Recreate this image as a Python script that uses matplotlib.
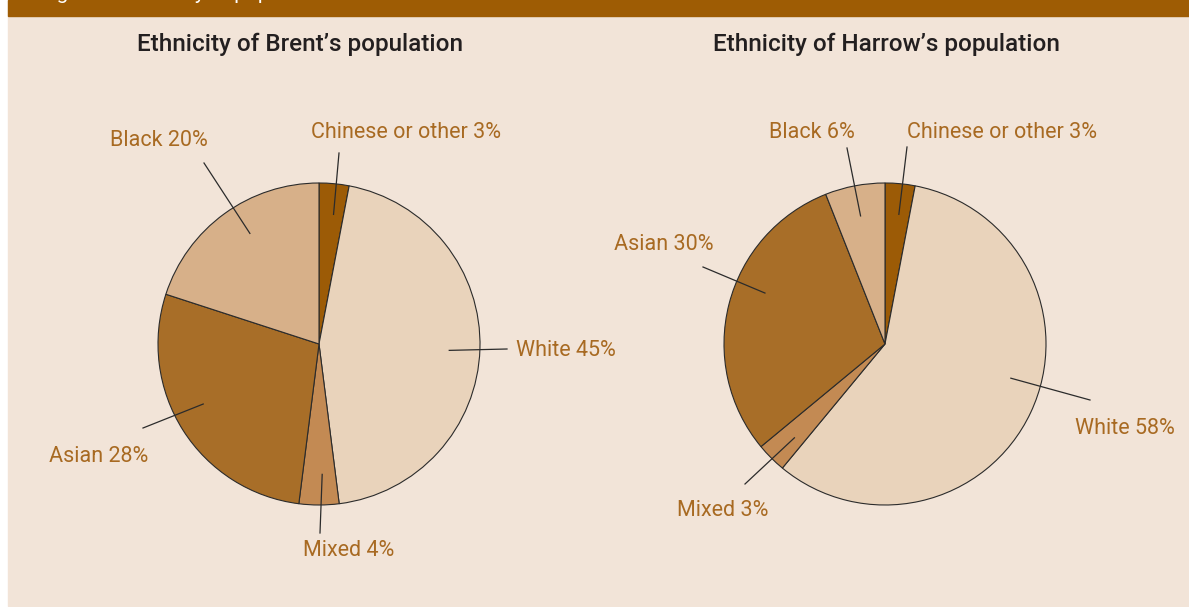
import matplotlib.pyplot as plt
import numpy as np

# data
groups = ['Chinese or other', 'White', 'Mixed', 'Asian', 'Black']
brent = [3, 45, 4, 28, 20]
harrow = [3, 58, 3, 30, 6]
titles = ['Ethnicity of Brent\u2019s population', 'Ethnicity of Harrow\u2019s population']
colors = ['#9c5b06', '#e9d3bb', '#c38a53', '#a86e28', '#d7b089']

BG = '#f2e4d8'
BANNER = '#9e5c04'
LABEL = '#a86a22'
W, H = 1189, 607

fig = plt.figure(figsize=(W / 100, H / 100), dpi=100, facecolor='white')
ax = fig.add_axes([0, 0, 1, 1])

# pixel helpers (y measured from the top)
def py(y):
    return H - y

# background panel + banner (its title runs off the top edge, as in the source)
ax.add_patch(plt.Rectangle((8, py(606)), W - 8, 606, color=BG, zorder=0))
ax.add_patch(plt.Rectangle((8, py(16)), W - 8, 16, color=BANNER, zorder=1))
ax.text(40, py(-1), 'Figure 3: Ethnicity of population', color='white',
        fontsize=15, fontfamily='Roboto', va='baseline', ha='left', zorder=2,
        clip_on=True)

# layout per pie: center, title x, and for each label:
# (text dx, text dy, line end dx, line end dy, angle nudge)
pies = [
    dict(values=brent, cx=319, cy=344, tx=300,
         labels=[(87, -211, 20, -191, -1), (197, 7, 188, 5, -1), (30, 206, 1, 189, 1.4),
                 (-220, 113, -176, 84, -5), (-160, -204, -115, -181, -4)],
         ha=['center', 'left', 'center', 'center', 'center']),
    dict(values=harrow, cx=885, cy=344, tx=886,
         labels=[(117, -211, 22, -197, -0.7), (240, 84, 205, 56, 10), (-162, 167, -140, 140, 1),
                 (-221, -99, -182, -77, -8.6), (-73, -211, -38, -196, 0)],
         ha=['center', 'center', 'center', 'center', 'center']),
]
R = 161

for p, title in zip(pies, titles):
    vals = np.array(p['values'], dtype=float)
    wedges, _ = ax.pie(vals, colors=colors, startangle=90, counterclock=False,
                       center=(p['cx'], py(p['cy'])), radius=R,
                       wedgeprops=dict(edgecolor='#2b2b2b', linewidth=0.8))
    ax.text(p['tx'], py(44), title, ha='center', va='center', fontsize=17.5,
            fontweight='medium', color='#231f20', fontfamily='Roboto')
    for w, g, v, lay, ha in zip(wedges, groups, vals, p['labels'], p['ha']):
        tdx, tdy, ldx, ldy, nudge = lay
        mid = np.deg2rad((w.theta1 + w.theta2) / 2 + nudge)
        x0 = p['cx'] + 0.81 * R * np.cos(mid)
        y0 = py(p['cy']) + 0.81 * R * np.sin(mid)
        ax.plot([x0, p['cx'] + ldx], [y0, py(p['cy'] + ldy)], color='#2b2b2b',
                lw=0.9, zorder=5)
        ax.text(p['cx'] + tdx, py(p['cy'] + tdy), f'{g} {v:.0f}%', ha=ha,
                va='center', fontsize=15.5, color=LABEL, fontfamily='Roboto')

ax.set_xlim(0, W)
ax.set_ylim(0, H)
ax.set_aspect('equal')
ax.axis('off')

fig.savefig('out.png', dpi=100, facecolor='white')
